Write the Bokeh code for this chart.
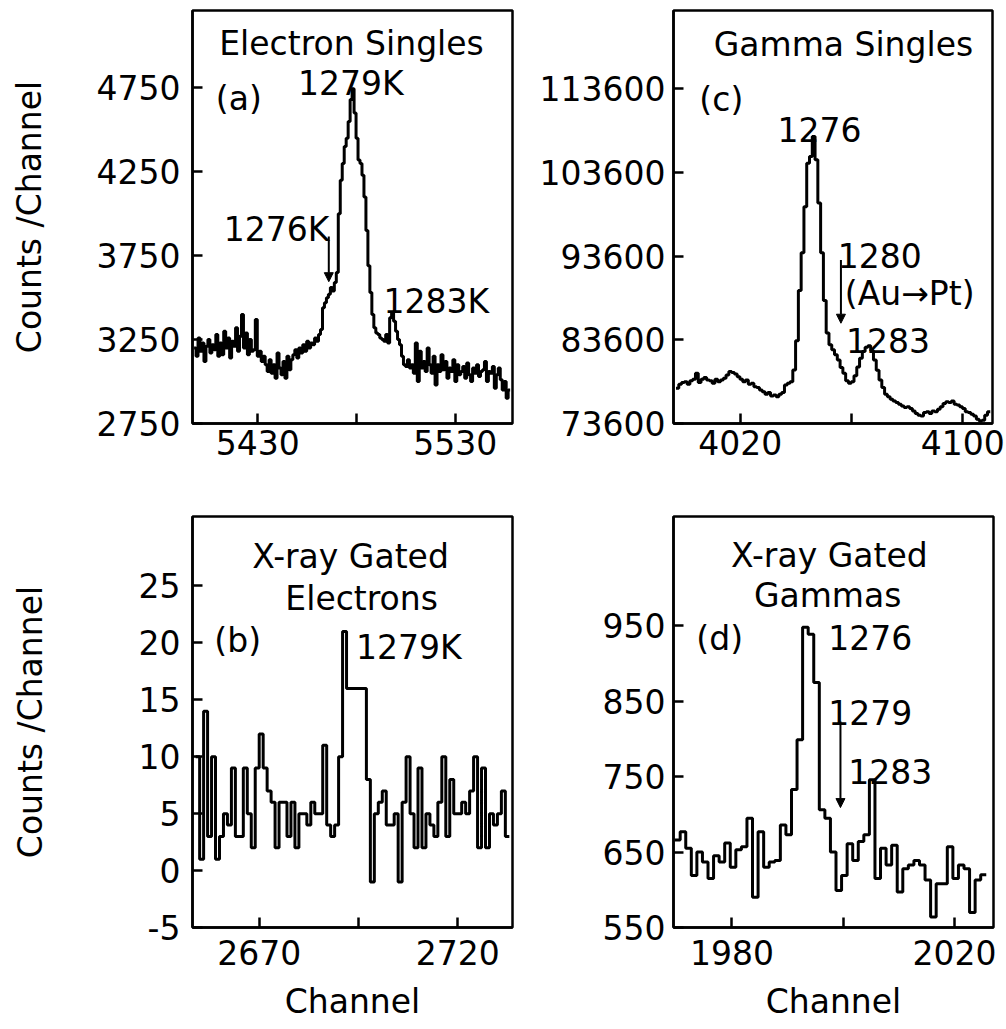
import numpy as np
from bokeh.plotting import figure
from bokeh.models import Range1d, FixedTicker, Arrow, NormalHead
from bokeh.layouts import column, row
from bokeh.embed import file_html
from bokeh.resources import INLINE
from bokeh.core.properties import value

FONT = "DejaVu Sans"
FS = "33px"
DATA_LW = 3

# ---------------- data ----------------
# (a) Electron singles, first channel 5398
a_start = 5398
a_counts = [
    3200, 3150, 3260, 3180, 3230, 3120, 3210, 3250, 3170, 3220,
    3190, 3280, 3150, 3230, 3160, 3300, 3200, 3260, 3140, 3240,
    3210, 3320, 3180, 3270, 3400, 3200, 3290, 3160, 3250, 3180,
    3190, 3370, 3150, 3180, 3120, 3150, 3100, 3060, 3130, 3050,
    3100, 3020, 3170, 3080, 3040, 3120, 3020, 3150, 3070, 3130,
    3160, 3190, 3140, 3200, 3170, 3220, 3180, 3240, 3200, 3230,
    3220, 3260, 3240, 3280, 3310, 3440, 3470, 3500, 3520, 3560,
    3540, 3590, 3650, 4000, 4200, 4300, 4400, 4450, 4550, 4680,
    4745, 4600, 4450, 4320, 4300, 4230, 4100, 3900, 3690, 3530,
    3400, 3320, 3290, 3280, 3260, 3250, 3240, 3280, 3230, 3380,
    3410, 3360, 3300, 3250, 3220, 3150, 3100, 3090, 3130, 3080,
    3100, 3050, 3230, 3000, 3180, 3080, 3120, 3060, 3200, 3100,
    3050, 3150, 2980, 3100, 3060, 3160, 3070, 3120, 3020, 3080,
    3060, 3130, 3000, 3100, 3040, 3060, 3090, 3020, 3110, 3040,
    3000, 3080, 3050, 3100, 3030, 3060, 3070, 3120, 3000, 3060,
    3050, 3090, 2960, 3040, 3080, 3010, 2950, 3000, 2900, 2950,
]
a_xticks = [5430, 5480, 5530]
a_xlabels = ["5430", "", "5530"]
a_yticks = [2750, 3250, 3750, 4250, 4750]
a_ylabels = ["2750", "3250", "3750", "4250", "4750"]

# (b) X-ray gated electrons, first channel 2654
b_start = 2654
b_counts = [
    10, 1, 14, 3, 10, 1, 3, 5, 4, 9,
    3, 3, 9, 5, 2, 9, 12, 9, 7, 6,
    2, 6, 6, 3, 6, 2, 5, 5, 4, 6,
    5, 5, 11, 4, 3, 4, 10, 21, 16, 16,
    16, 16, 16, 8, -1, 5, 6, 7, 4, 4,
    5, -1, 6, 10, 5, 2, 9, 2, 5, 4,
    3, 6, 10, 3, 8, 5, 5, 6, 5, 7,
    10, 2, 9, 2, 5, 4, 5, 7, 3,
]
b_xticks = [2670, 2695, 2720]
b_xlabels = ["2670", "", "2720"]
b_yticks = [-5, 0, 5, 10, 15, 20, 25]
b_ylabels = ["-5", "0", "5", "10", "15", "20", "25"]

# (c) Gamma singles, first channel 3997
c_start = 3997
c_counts = [
    77800, 78300, 78500, 78600, 78300, 78700, 78900, 79600, 78500, 78900,
    79100, 78800, 78700, 78400, 78900, 78600, 78800, 79000, 79400, 79800,
    79700, 79500, 79200, 78900, 78600, 78800, 78300, 78400, 78000, 77900,
    77600, 77400, 77100, 77300, 76900, 77000, 76800, 77100, 77300, 78200,
    78400, 78600, 80000, 83500, 89500, 94000, 99500, 104700, 105500, 107900,
    105100, 99950, 94000, 88300, 84400, 83000, 82400, 81800, 81200, 80300,
    79600, 78700, 78400, 78600, 79300, 80350, 81400, 82200, 82700, 82900,
    82300, 81200, 79950, 78800, 77900, 77100, 76800, 76500, 76300, 76100,
    75900, 75700, 75500, 75600, 75400, 75100, 74800, 74600, 74500, 74900,
    75000, 74800, 75100, 75000, 75300, 75600, 76000, 76200, 76100, 76300,
    75900, 75800, 75600, 75400, 75000, 74900, 74700, 74500, 74100, 73900,
    74000, 74600, 75000,
]
c_xticks = [4020, 4060, 4100]
c_xlabels = ["4020", "", "4100"]
c_yticks = [73600, 83600, 93600, 103600, 113600]
c_ylabels = ["73600", "83600", "93600", "103600", "113600"]

# (d) X-ray gated gammas, first channel edge 1969.7
d_start = 1969.7
d_counts = [
    666, 677, 655, 619, 650, 637, 615, 645, 637, 662,
    630, 653, 657, 695, 590, 677, 630, 637, 639, 686,
    673, 733, 799, 948, 939, 875, 706, 695, 650, 599,
    619, 661, 639, 664, 673, 746, 615, 655, 633, 659,
    597, 628, 633, 639, 633, 613, 564, 608, 608, 657,
    615, 633, 628, 570, 613, 620,
]
d_xticks = [1980, 2000, 2020]
d_xlabels = ["1980", "", "2020"]
d_yticks = [550, 650, 750, 850, 950]
d_ylabels = ["550", "650", "750", "850", "950"]


def step_xy(start, counts):
    edges = list(start + np.arange(len(counts) + 1))
    ys = list(counts) + [counts[-1]]
    return edges, ys


def make_fig(width, height, xr, yr, bl, br, bt, bb,
             xticks, xlabels, yticks, ylabels,
             ylabel=None, ylabel_standoff=0, xlabel=None, xlabel_standoff=10,
             xlab_standoff=8, ylab_standoff=12):
    p = figure(width=width, height=height,
               x_range=Range1d(*xr), y_range=Range1d(*yr),
               output_backend="svg", toolbar_location=None,
               min_border_left=bl, min_border_right=br,
               min_border_top=bt, min_border_bottom=bb)
    p.grid.visible = False
    p.background_fill_color = "white"
    p.border_fill_color = "white"
    p.outline_line_color = "black"
    p.outline_line_width = 2.5
    p.outline_line_alpha = 1.0
    for ax in (p.xaxis[0], p.yaxis[0]):
        ax.major_tick_in = 10
        ax.major_tick_out = 0
        ax.minor_tick_line_color = None
        ax.axis_line_width = 2.5
        ax.axis_line_color = "black"
        ax.major_tick_line_width = 2.5
        ax.major_tick_line_color = "black"
        ax.major_label_text_font = FONT
        ax.major_label_text_font_size = FS
        ax.major_label_text_color = "black"
        ax.axis_label_text_font = FONT
        ax.axis_label_text_font_size = FS
        ax.axis_label_text_font_style = "normal"
        ax.axis_label_text_color = "black"
    p.xaxis.ticker = FixedTicker(ticks=xticks)
    p.xaxis.major_label_overrides = {t: s for t, s in zip(xticks, xlabels)}
    p.yaxis.ticker = FixedTicker(ticks=yticks)
    p.yaxis.major_label_overrides = {t: s for t, s in zip(yticks, ylabels)}
    p.xaxis.major_label_standoff = xlab_standoff
    p.yaxis.major_label_standoff = ylab_standoff
    if ylabel:
        p.yaxis.axis_label = ylabel
        p.yaxis.axis_label_standoff = ylabel_standoff
    if xlabel:
        p.xaxis.axis_label = xlabel
        p.xaxis.axis_label_standoff = xlabel_standoff
    return p


def add_text(p, xs, ys, texts, align):
    p.text(x=xs, y=ys, text=texts, text_font=value(FONT), text_font_size=FS,
           text_align=align, text_baseline="alphabetic", text_color="black")


def add_arrow(p, x, y0, y1):
    p.add_layout(Arrow(end=NormalHead(size=9, fill_color="black", line_color="black", line_width=1),
                       x_start=x, y_start=y0, x_end=x, y_end=y1,
                       line_width=2, line_color="black"))


LW_TOP, LH_TOP = 530, 475
RW = 476
LH_BOT = 1029 - LH_TOP - 2

# ---- (a)
pa = make_fig(LW_TOP, LH_TOP, (5397, 5559), (2750, 5211), 192, 18, 10, 52,
              a_xticks, a_xlabels, a_yticks, a_ylabels,
              ylabel="Counts /Channel", ylabel_standoff=45, xlab_standoff=6)
x, y = step_xy(a_start - 0.2, a_counts)
pa.step(x, y, mode="after", line_width=DATA_LW, color="black")
add_text(pa, [5477.5], [5014], ["Electron Singles"], "center")
add_text(pa, [5408.8], [4685], ["(a)"], "left")
add_text(pa, [5477.2], [4775], ["1279K"], "center")
add_text(pa, [5439.6], [3906], ["1276K"], "center")
add_text(pa, [5520.4], [3475], ["1283K"], "center")
add_arrow(pa, 5466, 3864, 3595)

# ---- (c)
pc = make_fig(RW, LH_TOP, (3996, 4110.7), (73600, 122940), 143, 14, 10, 52,
              c_xticks, c_xlabels, c_yticks, c_ylabels, xlab_standoff=6, ylab_standoff=8)
x, y = step_xy(c_start - 0.1, c_counts)
pc.step(x, y, mode="after", line_width=DATA_LW, color="black")
add_text(pc, [4057.1], [118880], ["Gamma Singles"], "center")
add_text(pc, [4005.3], [112295], ["(c)"], "left")
add_text(pc, [4048.5], [108700], ["1276"], "center")
add_text(pc, [4055.1], [93726], ["1280"], "left")
add_text(pc, [4057.6], [89174], ["(Au\u2192Pt)"], "left")
add_text(pc, [4058.0], [83543], ["1283"], "left")
add_arrow(pc, 4056.2, 93128, 85580)

# ---- (b)
pb = make_fig(LW_TOP, LH_BOT, (2653.2, 2733.8), (-5, 31.1), 192, 18, 41, 100,
              b_xticks, b_xlabels, b_yticks, b_ylabels,
              ylabel="Counts /Channel", ylabel_standoff=86, xlabel="Channel",
              xlabel_standoff=14, xlab_standoff=12)
x, y = step_xy(b_start, b_counts)
pb.step(x, y, mode="after", line_width=DATA_LW, color="black")
add_text(pb, [2693.0], [27.6], ["X-ray Gated"], "center")
add_text(pb, [2695.8], [23.9], ["Electrons"], "center")
add_text(pb, [2658.7], [20.2], ["(b)"], "left")
add_text(pb, [2694.4], [19.6], ["1279K"], "left")

# ---- (d)
pd_ = make_fig(RW, LH_BOT, (1969.5, 2027), (550, 1095), 143, 13, 41, 100,
               d_xticks, d_xlabels, d_yticks, d_ylabels, xlabel="Channel",
               xlabel_standoff=14, xlab_standoff=12, ylab_standoff=8)
x, y = step_xy(d_start, d_counts)
pd_.step(x, y, mode="after", line_width=DATA_LW, color="black")
add_text(pd_, [1997.5], [1043], ["X-ray Gated"], "center")
add_text(pd_, [1997.2], [990], ["Gammas"], "center")
add_text(pd_, [1973.6], [933], ["(d)"], "left")
add_text(pd_, [1997.3], [935], ["1276"], "left")
add_text(pd_, [1997.3], [835], ["1279"], "left")
add_text(pd_, [2000.9], [757], ["1283"], "left")
add_arrow(pd_, 1999.5, 823, 709)

layout = column(row(pa, pc), row(pb, pd_))
open("out.html", "w").write(file_html(layout, INLINE))
